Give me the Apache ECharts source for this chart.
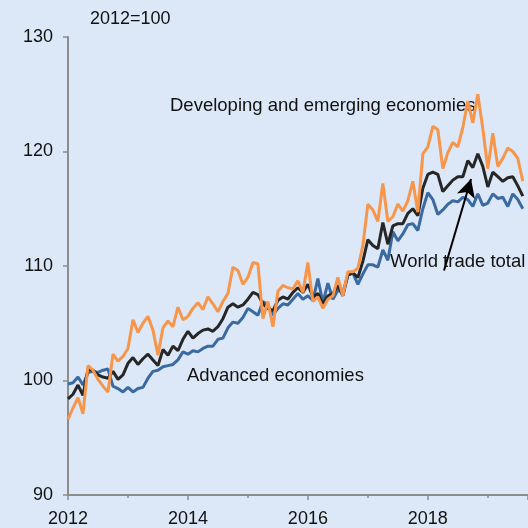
<!DOCTYPE html>
<html>
<head>
<meta charset="utf-8">
<script src="https://cdn.jsdelivr.net/npm/echarts@6/dist/echarts.min.js"></script>
<style>
html,body{margin:0;padding:0;background:#dce8f7;}
#c{width:528px;height:528px;}
</style>
</head>
<body>
<div id="c"></div>
<script>
// Monthly index values, Jan 2012 onward (2012=100)
var startYear = 2012;
var developing = [96.6,97.6,98.5,97.1,101.3,100.9,100.1,99.5,99.0,102.3,101.7,102.1,
  102.8,105.3,104.2,105.0,105.6,104.4,102.2,104.6,105.2,104.7,106.4,105.3,
  105.6,106.3,106.8,106.2,107.3,106.7,106.0,106.9,107.6,109.9,109.6,108.4,
  109.0,110.3,110.2,105.4,106.9,104.7,107.8,108.3,108.1,108.0,108.7,107.7,
  110.3,106.9,107.3,106.3,107.1,107.4,109.0,107.4,109.5,109.5,109.8,111.8,
  115.4,114.9,113.9,117.2,113.9,114.3,115.4,114.8,115.7,117.4,114.7,119.8,
  120.4,122.2,121.9,118.5,119.9,120.8,120.4,122.1,124.4,122.5,125.0,122.0,
  118.5,121.6,118.7,119.4,120.3,120.0,119.4,117.4];
var world = [98.4,98.8,99.6,98.7,101.0,100.9,100.5,100.3,100.2,100.8,100.1,100.5,
  101.5,102.0,101.4,101.9,102.3,101.8,101.3,102.7,102.2,103.0,102.6,103.6,
  104.3,103.7,104.1,104.4,104.5,104.3,104.7,105.4,106.4,106.7,106.4,106.6,
  107.1,107.7,107.5,106.7,106.3,106.1,107.0,107.3,107.1,107.7,108.1,107.7,
  108.4,107.3,107.6,106.7,107.4,107.6,108.3,107.4,109.2,109.4,109.0,110.4,
  112.3,111.8,111.5,113.8,111.9,113.5,113.7,113.7,114.6,115.0,114.4,116.8,
  118.0,118.2,118.0,116.5,117.0,117.5,117.8,117.8,119.2,118.6,119.8,118.7,
  116.9,118.2,117.8,117.4,117.7,117.8,117.0,116.1];
var advanced = [99.7,99.8,100.3,99.6,100.7,100.8,100.7,100.9,101.0,99.5,99.3,99.0,
  99.4,99.0,99.3,99.4,100.2,100.8,100.9,101.2,101.3,101.4,101.8,102.5,
  102.3,102.6,102.5,102.8,103.0,103.0,103.6,103.7,104.6,105.1,105.0,105.5,
  106.3,106.0,105.7,106.9,106.6,105.7,106.3,106.7,106.6,107.1,107.6,107.1,
  107.4,107.0,108.9,106.8,108.5,107.1,107.9,107.7,109.2,109.4,108.4,109.3,
  110.1,110.1,109.9,111.4,110.5,113.0,112.2,112.8,113.6,113.7,113.1,115.0,
  116.4,115.8,114.5,114.9,115.4,115.7,115.6,116.0,115.8,115.2,116.3,115.3,
  115.5,116.3,115.9,116.0,115.2,116.3,115.8,115.0];
var yTicks = [90,100,110,120,130];
var xLabelYears = [2012,2014,2016,2018];
var baseNote = '2012=100';
var labelDev = 'Developing and emerging economies';
var labelAdv = 'Advanced economies';
var labelWorld = 'World trade total';
var arrowFrom = [2018.27, 109.6];
var arrowTo = [2018.72, 117.6];

function toPairs(arr){
  return arr.map(function(v,i){ return [startYear + i/12, v]; });
}
var font = '"Liberation Sans", Arial, sans-serif';
var chart = echarts.init(document.getElementById('c'), null, {renderer:'canvas'});
chart.setOption({
  backgroundColor:'#dce8f7',
  animation:false,
  grid:{left:68, right:0, top:37, bottom:31, containLabel:false},
  xAxis:{
    type:'value', min:2012, max:2019.67, interval:2,
    axisLine:{show:true, onZero:false, lineStyle:{color:'#8c8c8c', width:2}},
    axisTick:{show:true, length:5, lineStyle:{color:'#8c8c8c', width:1.5}},
    minorTick:{show:true, splitNumber:2, length:3, lineStyle:{color:'#8c8c8c', width:1.5}},
    splitLine:{show:false},
    axisLabel:{margin:15, fontSize:18, color:'#111', fontFamily:font, showMaxLabel:false,
      formatter:function(v){ return xLabelYears.indexOf(Math.round(v))>=0 && Math.abs(v-Math.round(v))<1e-6 ? String(Math.round(v)) : ''; }}
  },
  yAxis:{
    type:'value', min:yTicks[0], max:yTicks[yTicks.length-1], interval:10,
    axisLine:{show:true, lineStyle:{color:'#8c8c8c', width:2}},
    axisTick:{show:true, length:5, lineStyle:{color:'#8c8c8c', width:1.5}},
    splitLine:{show:false},
    axisLabel:{margin:15, fontSize:18, color:'#111', fontFamily:font}
  },
  series:[
    {name:'Advanced economies', type:'line', data:toPairs(advanced), showSymbol:false,
      lineStyle:{color:'#3a6aa0', width:3}, itemStyle:{color:'#3a6aa0'}},
    {name:'World trade total', type:'line', data:toPairs(world), showSymbol:false,
      lineStyle:{color:'#262626', width:3}, itemStyle:{color:'#262626'},
      markLine:{silent:true, symbol:['none','arrow'], symbolSize:[14,18],
        lineStyle:{color:'#000', width:2, type:'solid'}, label:{show:false},
        data:[[{coord:arrowFrom},{coord:arrowTo}]]}},
    {name:'Developing and emerging economies', type:'line', data:toPairs(developing), showSymbol:false,
      lineStyle:{color:'#f7964a', width:3}, itemStyle:{color:'#f7964a'}}
  ],
  graphic:[
    {type:'text', left:90, top:10, style:{text:baseNote, font:'18px '+font, fill:'#111'}},
    {type:'text', left:170, top:96, style:{text:labelDev, font:'18.5px '+font, fill:'#111'}},
    {type:'text', left:187, top:366, style:{text:labelAdv, font:'18.5px '+font, fill:'#111'}},
    {type:'text', left:390, top:252, style:{text:labelWorld, font:'18.5px '+font, fill:'#111'}}
  ]
});
</script>
</body>
</html>
